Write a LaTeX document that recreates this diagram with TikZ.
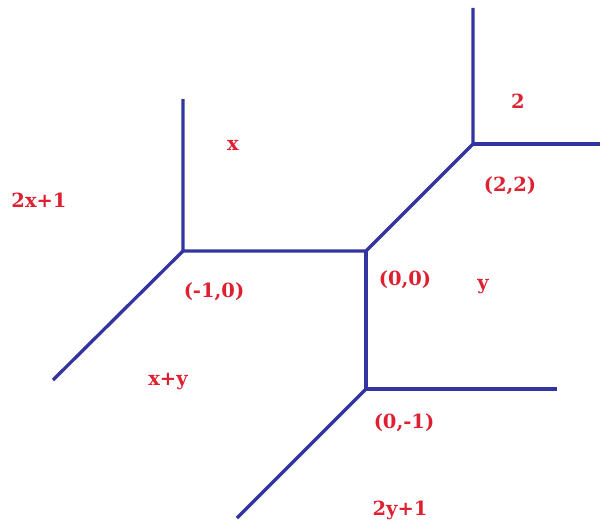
\documentclass[tikz,border=0pt]{standalone}
\usepackage{fontspec}
\setmainfont{DejaVu Serif}
\definecolor{edgeblue}{RGB}{52,52,160}
\definecolor{labred}{RGB}{222,32,48}
\begin{document}
\begin{tikzpicture}[x=1pt,y=-1pt,
  edge/.style={draw=edgeblue,line width=3.3pt},
  lab/.style={text=labred,font=\bfseries\fontsize{19.5}{21}\selectfont,inner sep=0pt}]
\useasboundingbox (0,0) rectangle (600,527);
\coordinate (A) at (183,251);
\coordinate (B) at (366,251);
\coordinate (C) at (473,144);
\coordinate (D) at (366,389);
\coordinate (Atop) at (183,99);
\coordinate (Adl) at (53,380);
\coordinate (Ctop) at (473,8);
\coordinate (Cright) at (600,144);
\coordinate (Dright) at (557,389);
\coordinate (Ddl) at (237,518);
\draw[edge] (Atop) -- (A) -- (B) -- (C) -- (Ctop);
\draw[edge] (A) -- (Adl);
\draw[edge] (C) -- (Cright);
\draw[edge] (B) -- (D) -- (Dright);
\draw[edge] (D) -- (Ddl);
\node[lab] (lx) at (233,145) {x};
\node[lab] (l2x) at (39,200) {2x+1};
\node[lab] (lA) at (214,292) {(-1,0)};
\node[lab] (l2) at (518,101) {2};
\node[lab] (lC) at (510,186) {(2,2)};
\node[lab] (lB) at (405,280) {(0,0)};
\node[lab] (ly) at (483,287) {y};
\node[lab] (lD) at (404,423) {(0,-1)};
\node[lab] (l2y) at (400,510) {2y+1};
\node[lab] (lxy) at (168,382) {x+y};
\end{tikzpicture}
\end{document}
